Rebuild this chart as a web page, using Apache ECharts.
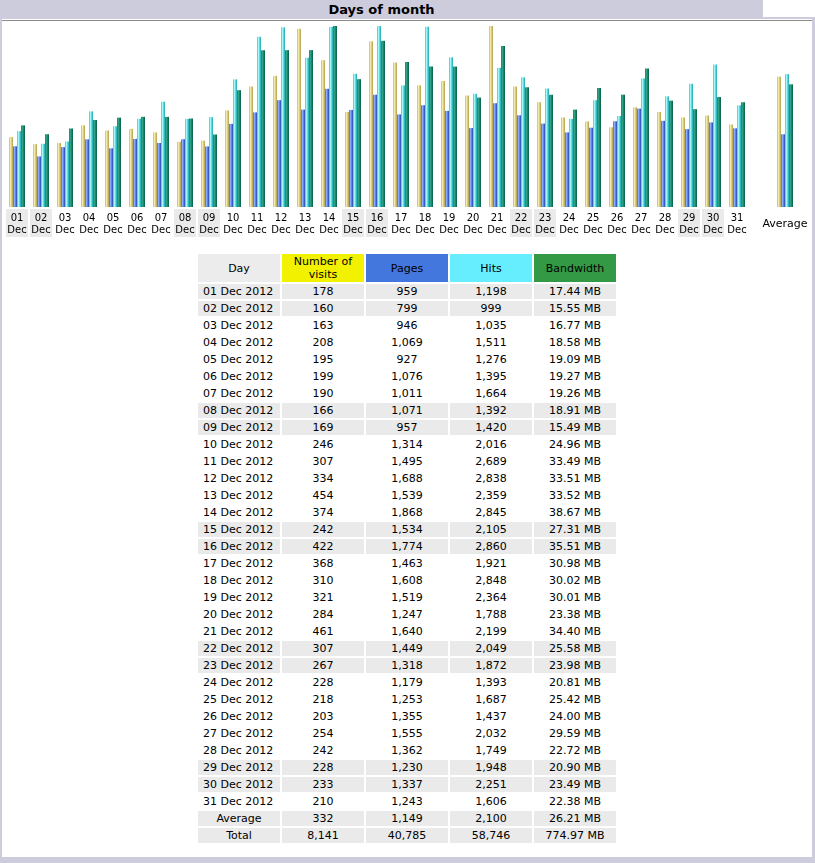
<!DOCTYPE html>
<html>
<head>
<meta charset="utf-8">
<script src="https://cdn.jsdelivr.net/npm/echarts@6/dist/echarts.min.js"></script>
<style>
body { margin: 0; width: 815px; height: 863px; position: relative; background: #fff; overflow: hidden;
       font-family: "DejaVu Sans", Verdana, sans-serif; color: #000; }
.title { position: absolute; left: 0; top: 0; width: 763px; height: 19px; background: #CCCCDD; z-index: 2;
         font-weight: bold; font-size: 13px; line-height: 19px; text-align: center; }
.box { position: absolute; left: 0; top: 17px; width: 815px; height: 846px; box-sizing: border-box;
       border: solid #CCCCDD; border-width: 2px 3px 6px 2px; }
.box .line { position: absolute; left: 0; right: 0; top: 1px; height: 1px; background: #8a8a8a; }
#daysChart { position: absolute; left: 0; top: 20px; width: 815px; height: 225px; z-index: 1; }
table.days { position: absolute; left: 196px; top: 252px; border-collapse: separate; border-spacing: 2px; font-size: 11px; }
table.days td { width: 82px; height: 15px; padding: 0; line-height: 15px; text-align: center; white-space: nowrap; }
table.days td.d { text-align: left; padding-left: 5px; width: 77px; }
table.days tr.hd td { height: 28px; line-height: 13px; }
table.days tr.we td, table.days tr.sum td { background: #EAEAEA; }
table.days tr.sum td.d { text-align: center; padding-left: 0; width: 82px; }
</style>
</head>
<body>
<div class="title">Days of month</div>
<div class="box"><div class="line"></div></div>
<div id="daysChart"></div>
<table class="days" id="daysTable"></table>
<script>
// chart data, December 2012
const days = ['01','02','03','04','05','06','07','08','09','10','11','12','13','14','15','16',
              '17','18','19','20','21','22','23','24','25','26','27','28','29','30','31']
const weekendDays = ['01','02','08','09','15','16','22','23','29','30']
const visits = [178,160,163,208,195,199,190,166,169,246,307,334,454,374,242,422,
                368,310,321,284,461,307,267,228,218,203,254,242,228,233,210]
const pages = [959,799,946,1069,927,1076,1011,1071,957,1314,1495,1688,1539,1868,1534,1774,
               1463,1608,1519,1247,1640,1449,1318,1179,1253,1355,1555,1362,1230,1337,1243]
const hits = [1198,999,1035,1511,1276,1395,1664,1392,1420,2016,2689,2838,2359,2845,2105,2860,
              1921,2848,2364,1788,2199,2049,1872,1393,1687,1437,2032,1749,1948,2251,1606]
const bandwidth = [17.44,15.55,16.77,18.58,19.09,19.27,19.26,18.91,15.49,24.96,33.49,33.51,33.52,38.67,27.31,35.51,
                   30.98,30.02,30.01,23.38,34.40,25.58,23.98,20.81,25.42,24.00,29.59,22.72,20.90,23.49,22.38]
const averageRow = [332, 1149, 2100, 26.21]
const totalRow = [8141, 40785, 58746, 774.97]
const headers = ['Day', 'Number of<br>visits', 'Pages', 'Hits', 'Bandwidth']
const headerColors = ['#ECECEC', '#F2F200', '#4477DD', '#66EEFF', '#339944']

const fmt = (n) => n.toLocaleString('en-US')
const mb = (n) => n.toFixed(2) + ' MB'

// table
const tbl = document.getElementById('daysTable')
let html = '<tr class="hd">' + headers.map((h, i) => '<td style="background:' + headerColors[i] + '">' + h + '</td>').join('') + '</tr>'
days.forEach((d, i) => {
    html += '<tr class="' + (weekendDays.includes(d) ? 'we' : '') + '"><td class="d">' + d + ' Dec 2012</td>' +
        '<td>' + fmt(visits[i]) + '</td><td>' + fmt(pages[i]) + '</td><td>' + fmt(hits[i]) + '</td><td>' + mb(bandwidth[i]) + '</td></tr>'
})
html += '<tr class="sum"><td class="d">Average</td><td>' + fmt(averageRow[0]) + '</td><td>' + fmt(averageRow[1]) +
    '</td><td>' + fmt(averageRow[2]) + '</td><td>' + mb(averageRow[3]) + '</td></tr>'
html += '<tr class="sum"><td class="d">Total</td><td>' + fmt(totalRow[0]) + '</td><td>' + fmt(totalRow[1]) +
    '</td><td>' + fmt(totalRow[2]) + '</td><td>' + mb(totalRow[3]) + '</td></tr>'
tbl.innerHTML = html

// chart
const grad = (c) => new echarts.graphic.LinearGradient(0, 0, 1, 0, [
    { offset: 0, color: c[0] }, { offset: 0.35, color: c[1] }, { offset: 1, color: c[2] }
])
const font = '"DejaVu Sans", Verdana, sans-serif'
const cats = days.concat(['', 'Average'])
const tok = (bg, pad) => ({ width: 22, height: 12, padding: pad, align: 'center', fontSize: 10,
    fontFamily: font, color: '#000', backgroundColor: bg })

const myChart = echarts.init(document.getElementById('daysChart'))
const barBase = { type: 'bar', barWidth: 4, barGap: '0%', silent: true, animation: false }
const option = {
    animation: false,
    grid: { left: 5, top: 6, width: 792, height: 181 },
    xAxis: {
        type: 'category',
        data: cats,
        axisLine: { show: false },
        axisTick: { show: false },
        axisLabel: {
            interval: 0,
            margin: 2,
            formatter: function (v) {
                if (v === '') return ''
                if (v === 'Average') return '{avg|Average}'
                return weekendDays.includes(v) ? '{wa|' + v + '}\n{wb|Dec}' : '{na|' + v + '}\n{nb|Dec}'
            },
            rich: {
                wa: tok('#EAEAEA', [3, 0, 0, 0]),
                wb: tok('#EAEAEA', [0, 0, 1, 0]),
                na: tok('transparent', [3, 0, 0, 0]),
                nb: tok('transparent', [0, 0, 1, 0]),
                avg: { height: 25, padding: [3, 0, 0, 0], fontSize: 11, fontFamily: font, color: '#000' }
            }
        }
    },
    yAxis: [
        { type: 'value', min: 0, max: Math.max(...visits), show: false },
        { type: 'value', min: 0, max: Math.max(...hits), show: false },
        { type: 'value', min: 0, max: Math.max(...bandwidth), show: false }
    ],
    series: [
        Object.assign({}, barBase, { name: 'Visits', yAxisIndex: 0, data: visits.concat([null, averageRow[0]]),
            itemStyle: { color: grad(['#C9B866', '#F4ECB0', '#B3A04C']) } }),
        Object.assign({}, barBase, { name: 'Pages', yAxisIndex: 1, data: pages.concat([null, averageRow[1]]),
            itemStyle: { color: grad(['#3C62D6', '#8FB0FF', '#2446B0']) } }),
        Object.assign({}, barBase, { name: 'Hits', yAxisIndex: 1, data: hits.concat([null, averageRow[2]]),
            itemStyle: { color: grad(['#2CC8C8', '#A8FAFA', '#17A6AE']) } }),
        Object.assign({}, barBase, { name: 'Bandwidth', yAxisIndex: 2, data: bandwidth.concat([null, averageRow[3]]),
            itemStyle: { color: grad(['#17886A', '#2FA486', '#075A44']) } })
    ]
}
myChart.setOption(option)
</script>
</body>
</html>
